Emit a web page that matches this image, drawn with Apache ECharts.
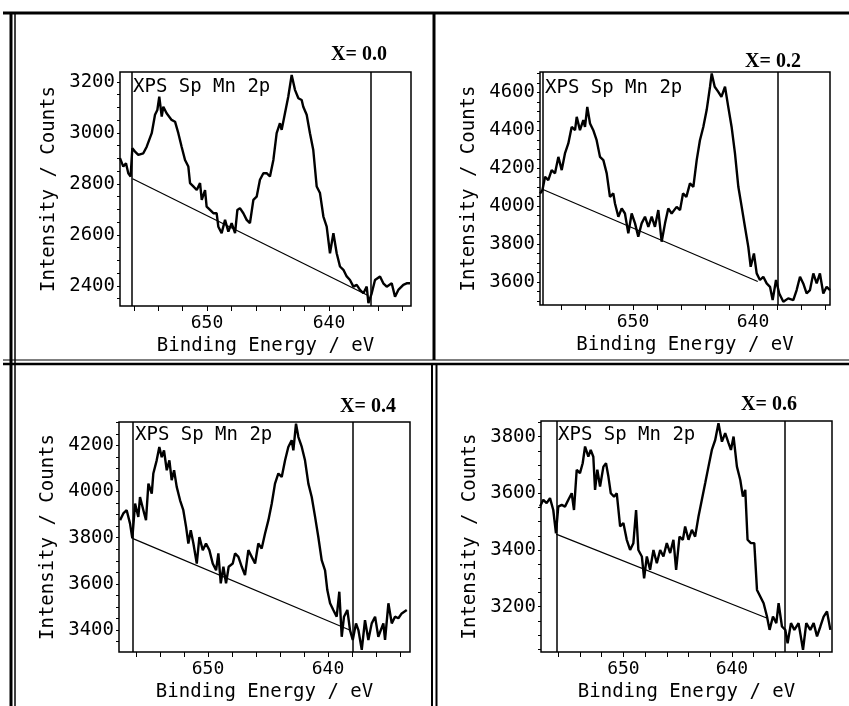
<!DOCTYPE html>
<html>
<head>
<meta charset="utf-8">
<script src="https://cdn.jsdelivr.net/npm/echarts@6/dist/echarts.min.js"></script>
<style>
  html, body { margin: 0; padding: 0; background: #fff; }
  #chart { width: 849px; height: 706px; }
</style>
</head>
<body>
<div id="chart"></div>
<script>
// binding energy (eV) / counts
const spec0 = [
  [657.13,2901],[656.86,2868],[656.64,2881],[656.45,2842],[656.26,2829],[656.12,2940],[655.90,2927],[655.63,2914],
  [655.22,2920],[654.94,2946],[654.53,2999],[654.26,3071],[654.07,3090],[653.91,3142],[653.71,3064],[653.58,3103],
  [653.31,3077],[652.90,3051],[652.62,3044],[652.35,2999],[652.08,2946],[651.80,2894],[651.53,2868],[651.39,2803],
  [651.12,2790],[650.84,2776],[650.57,2803],[650.43,2737],[650.16,2776],[650.03,2711],[649.75,2698],[649.48,2685],
  [649.21,2685],[649.07,2632],[648.80,2607],[648.52,2659],[648.25,2613],[647.98,2646],[647.70,2607],[647.51,2698],
  [647.30,2705],[647.02,2685],[646.75,2659],[646.48,2646],[646.20,2737],[645.93,2750],[645.66,2816],[645.38,2842],
  [645.11,2842],[644.84,2829],[644.56,2894],[644.29,2999],[644.02,3038],[643.88,3012],[643.61,3077],[643.34,3142],
  [643.06,3227],[642.79,3169],[642.51,3136],[642.24,3129],[642.11,3103],[641.83,3071],[641.56,2999],[641.29,2933],
  [641.01,2790],[640.74,2764],[640.46,2672],[640.19,2632],[639.92,2528],[639.64,2607],[639.37,2528],[639.10,2476],
  [638.82,2463],[638.55,2437],[638.28,2423],[638.00,2397],[637.73,2404],[637.46,2384],[637.18,2371],[636.91,2397],
  [636.77,2332],[636.50,2371],[636.23,2423],[635.82,2437],[635.55,2410],[635.27,2397],[634.86,2410],[634.59,2357],
  [634.32,2384],[633.91,2404],[633.64,2410],[633.36,2410]
];
const spec1 = [
  [657.75,4067],[657.55,4084],[657.33,4155],[657.06,4137],[656.78,4190],[656.50,4173],[656.22,4260],[655.94,4190],
  [655.67,4278],[655.39,4331],[655.11,4418],[654.83,4401],[654.69,4471],[654.42,4401],[654.14,4454],[654.00,4418],
  [653.81,4524],[653.58,4436],[653.31,4401],[653.03,4348],[652.75,4260],[652.47,4243],[652.19,4173],[651.92,4049],
  [651.64,4067],[651.50,4014],[651.22,3944],[650.94,3988],[650.67,3961],[650.39,3856],[650.11,3961],[649.83,3909],
  [649.56,3838],[649.28,3909],[649.00,3944],[648.72,3891],[648.44,3944],[648.17,3891],[647.89,3979],[647.61,3812],
  [647.33,3909],[647.06,3988],[646.78,3961],[646.36,3996],[646.08,3979],[645.83,4067],[645.55,4049],[645.25,4120],
  [644.97,4102],[644.69,4243],[644.42,4348],[644.14,4418],[643.86,4507],[643.58,4630],[643.44,4700],[643.19,4630],
  [642.89,4603],[642.63,4577],[642.33,4630],[642.06,4524],[641.78,4418],[641.50,4278],[641.22,4102],[640.94,3996],
  [640.67,3891],[640.39,3785],[640.19,3680],[639.92,3750],[639.69,3645],[639.42,3610],[639.14,3627],[638.86,3592],
  [638.58,3574],[638.36,3504],[638.08,3610],[637.81,3539],[637.47,3495],[637.06,3513],[636.64,3504],[636.36,3557],
  [636.08,3627],[635.81,3592],[635.53,3539],[635.25,3557],[634.97,3645],[634.69,3592],[634.42,3645],[634.14,3539],
  [633.86,3574],[633.58,3557]
];
const spec2 = [
  [657.33,3876],[657.06,3905],[656.78,3919],[656.50,3861],[656.31,3797],[656.08,3948],[655.81,3890],[655.67,3976],
  [655.39,3919],[655.17,3876],[654.97,4034],[654.69,3991],[654.56,4078],[654.28,4135],[654.06,4193],[653.86,4149],
  [653.67,4178],[653.44,4092],[653.22,4135],[653.03,4049],[652.83,4092],[652.61,4020],[652.33,3962],[652.06,3919],
  [651.83,3847],[651.64,3775],[651.44,3832],[651.22,3775],[650.94,3688],[650.72,3803],[650.44,3746],[650.17,3775],
  [649.89,3746],[649.61,3688],[649.33,3659],[649.14,3732],[648.94,3602],[648.72,3674],[648.50,3602],[648.28,3674],
  [647.94,3688],[647.75,3732],[647.47,3717],[647.19,3674],[646.92,3638],[646.64,3746],[646.36,3717],[646.08,3688],
  [645.81,3775],[645.53,3753],[645.25,3818],[644.97,3876],[644.69,3948],[644.42,4034],[644.14,4078],[643.86,4063],
  [643.58,4135],[643.31,4193],[643.03,4222],[642.89,4178],[642.67,4294],[642.47,4236],[642.19,4193],[641.92,4135],
  [641.64,4034],[641.36,3976],[641.08,3890],[640.81,3803],[640.53,3703],[640.25,3659],[640.06,3573],[639.83,3516],
  [639.56,3487],[639.28,3458],[639.06,3566],[638.86,3371],[638.67,3458],[638.39,3487],[638.17,3400],[637.94,3357],
  [637.67,3429],[637.47,3400],[637.19,3314],[636.92,3443],[636.64,3357],[636.36,3429],[636.08,3458],[635.81,3371],
  [635.39,3429],[635.25,3357],[634.97,3516],[634.69,3429],[634.42,3458],[634.14,3451],[633.86,3472],[633.44,3487]
];
const spec3 = [
  [657.68,3553],[657.38,3577],[657.07,3565],[656.76,3583],[656.46,3541],[656.21,3459],[656.00,3553],[655.68,3559],
  [655.38,3553],[655.07,3577],[654.76,3600],[654.55,3541],[654.30,3683],[654.00,3671],[653.75,3706],[653.53,3765],
  [653.23,3729],[653.01,3753],[652.77,3729],[652.61,3612],[652.40,3683],[652.15,3624],[651.84,3694],[651.60,3706],
  [651.38,3659],[651.16,3600],[650.86,3588],[650.61,3600],[650.30,3483],[650.00,3495],[649.69,3436],[649.38,3400],
  [649.08,3424],[648.83,3541],[648.62,3400],[648.30,3377],[648.09,3300],[647.84,3377],[647.54,3330],[647.23,3400],
  [646.92,3353],[646.61,3400],[646.31,3377],[646.00,3424],[645.69,3389],[645.39,3436],[645.14,3330],[644.83,3447],
  [644.52,3436],[644.31,3483],[644.00,3436],[643.69,3471],[643.39,3447],[643.08,3518],[642.77,3577],[642.46,3636],
  [642.16,3694],[641.85,3753],[641.54,3788],[641.24,3847],[640.92,3782],[640.62,3812],[640.31,3777],[640.09,3753],
  [639.85,3800],[639.54,3694],[639.23,3647],[638.99,3588],[638.77,3612],[638.56,3436],[638.25,3424],[637.94,3424],
  [637.69,3259],[637.39,3236],[637.08,3212],[636.77,3165],[636.53,3118],[636.22,3165],[635.91,3142],[635.70,3212],
  [635.39,3130],[635.08,3118],[634.87,3071],[634.56,3142],[634.25,3118],[633.86,3142],[633.45,3048],[633.15,3142],
  [632.78,3118],[632.47,3142],[632.16,3095],[631.85,3130],[631.55,3165],[631.24,3183],[630.93,3118]
];

// linear backgrounds and integration limits
const base0 = [[656.1, 2820], [636.8, 2362]];
const base1 = [[657.6, 4090], [639.6, 3602]];
const base2 = [[656.3, 3797], [638.2, 3400]];
const base3 = [[656.2, 3456], [636.8, 3160]];
const limits0 = [656.2, 636.6];
const limits1 = [657.5, 637.9];
const limits2 = [656.3, 637.9];
const limits3 = [656.1, 635.1];

// axes
const xLabels = [650, 640];
const yLabels0 = [2400, 2600, 2800, 3000, 3200];
const yLabels1 = [3600, 3800, 4000, 4200, 4400, 4600];
const yLabels2 = [3400, 3600, 3800, 4000, 4200];
const yLabels3 = [3200, 3400, 3600, 3800];
const panelTitles = ['X= 0.0', 'X= 0.2', 'X= 0.4', 'X= 0.6'];

function steps(a, b, s) {
  const out = [];
  for (let v = a; v <= b + 1e-9; v += s) out.push(v);
  return out;
}

const MONO = 'DejaVu Sans Mono';

// layout for each panel
const panels = [
  {spec: spec0, base: base0, lim: limits0, yl: yLabels0, grid: {left: 120, top: 72, width: 291, height: 234}, x: [633.28, 657.13], y: [2321, 3239], title: [359, 55], tag: [133, 87]},
  {spec: spec1, base: base1, lim: limits1, yl: yLabels1, grid: {left: 540, top: 72, width: 290, height: 233}, x: [633.58, 657.75], y: [3478, 4708], title: [773, 62], tag: [545, 88]},
  {spec: spec2, base: base2, lim: limits2, yl: yLabels2, grid: {left: 119, top: 422, width: 291, height: 230}, x: [633.17, 657.42], y: [3305, 4301], title: [368, 407], tag: [135, 435]},
  {spec: spec3, base: base3, lim: limits3, yl: yLabels3, grid: {left: 541, top: 421, width: 291, height: 231}, x: [630.78, 657.59], y: [3040, 3855], title: [769, 405], tag: [558, 435]}
];

const grids = [], xAxes = [], yAxes = [], series = [], graphics = [];

panels.forEach((p, i) => {
  grids.push(Object.assign({show: true, borderColor: '#000', borderWidth: 1.5, backgroundColor: 'transparent'}, p.grid));
  xAxes.push({
    type: 'value', gridIndex: i, inverse: true, min: p.x[0], max: p.x[1],
    splitLine: {show: false}, axisLine: {show: false},
    axisTick: {show: true, customValues: steps(632, 656, 2), length: 5, lineStyle: {color: '#000', width: 1}},
    axisLabel: {customValues: xLabels, formatter: v => String(v), fontFamily: MONO, fontSize: 18, color: '#000', margin: 8},
    name: 'Binding Energy / eV', nameLocation: 'middle', nameGap: 31,
    nameTextStyle: {fontFamily: MONO, fontSize: 19, color: '#000'}
  });
  const lo = Math.ceil(p.y[0] / 50) * 50;
  yAxes.push({
    type: 'value', gridIndex: i, min: p.y[0], max: p.y[1],
    splitLine: {show: false}, axisLine: {show: false},
    axisTick: {show: true, customValues: steps(lo, p.y[1], 50), length: 3, lineStyle: {color: '#000', width: 1}},
    axisLabel: {customValues: p.yl, formatter: v => String(v), fontFamily: MONO, fontSize: 19, color: '#000', margin: 5, padding: [0, 0, 4, 0]},
    name: 'Intensity / Counts', nameLocation: 'middle', nameGap: 61,
    nameTextStyle: {fontFamily: MONO, fontSize: 19, color: '#000'}
  });
  series.push({
    type: 'line', xAxisIndex: i, yAxisIndex: i, data: p.spec,
    showSymbol: false, lineStyle: {color: '#000', width: 2.4}, z: 3
  });
  series.push({
    type: 'line', xAxisIndex: i, yAxisIndex: i, data: p.base,
    showSymbol: false, lineStyle: {color: '#000', width: 1.2}, z: 2,
    markLine: {
      silent: true, symbol: ['none', 'none'], label: {show: false},
      lineStyle: {color: '#000', width: 1.5, type: 'solid'},
      data: p.lim.map(v => ({xAxis: v}))
    }
  });
  graphics.push({
    type: 'text', x: p.title[0], y: p.title[1],
    style: {text: panelTitles[i], font: 'bold 20px "Liberation Serif"', fill: '#000', textAlign: 'center', textVerticalAlign: 'middle'}
  });
  graphics.push({
    type: 'text', x: p.tag[0], y: p.tag[1],
    style: {text: 'XPS Sp Mn 2p', font: '19px "' + MONO + '"', fill: '#000', textAlign: 'left', textVerticalAlign: 'middle'}
  });
});

// panel frame lines
function rule(x1, y1, x2, y2, w) {
  return {type: 'line', shape: {x1, y1, x2, y2}, style: {stroke: '#000', lineWidth: w}, silent: true};
}
graphics.push(
  rule(3, 13, 849, 13, 3),
  rule(11, 12, 11, 706, 3), rule(15, 12, 15, 706, 1.5),
  rule(434, 12, 434, 360, 3),
  rule(432, 364, 432, 706, 2), rule(436.5, 364, 436.5, 706, 2),
  rule(3, 360, 849, 360, 1.2), rule(3, 364, 849, 364, 2.5)
);

const chart = echarts.init(document.getElementById('chart'));
chart.setOption({
  animation: false,
  backgroundColor: '#fff',
  grid: grids,
  xAxis: xAxes,
  yAxis: yAxes,
  series: series,
  graphic: graphics
});
</script>
</body>
</html>
